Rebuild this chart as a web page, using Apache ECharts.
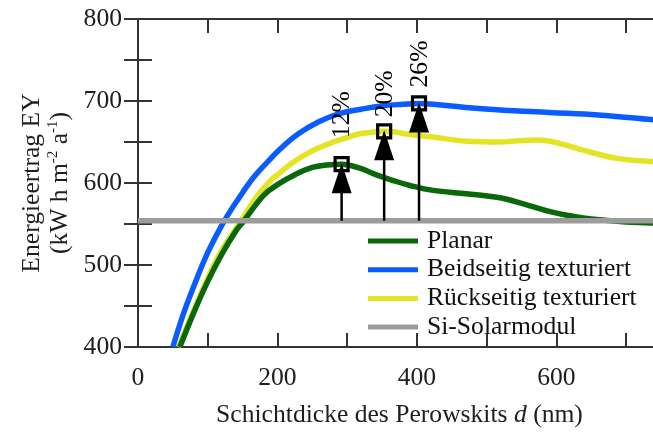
<!DOCTYPE html>
<html>
<head>
<meta charset="utf-8">
<title>Energieertrag vs. Schichtdicke</title>
<script src="https://cdn.jsdelivr.net/npm/echarts@6/dist/echarts.min.js"></script>
<style>
  html, body { margin: 0; padding: 0; background: #ffffff; }
  #chart { width: 653px; height: 432px; }
</style>
</head>
<body>
<div id="chart"></div>
<script>
// Schichtdicke d (nm) -> Energieertrag EY (kWh m^-2 a^-1)
const planar = [
  [60, 400], [80, 442], [100, 480], [120, 513], [140, 541], [152, 554],
  [180, 585], [200, 598], [227, 611], [250, 619], [271, 622], [292, 623],
  [318, 618], [342, 610], [366, 603], [390, 597], [423, 591], [471, 587],
  [519, 582], [555, 574], [591, 565], [620, 560], [650, 556], [700, 552.5],
  [750, 551]
];
const beidseitig = [
  [50, 400], [65, 440], [80, 474], [100, 515], [124, 554], [145, 582],
  [165, 606], [185, 625], [202, 640], [230, 660], [260, 675], [290, 685],
  [320, 690], [350, 694], [380, 696], [403, 697], [430, 695.5], [470, 692],
  [520, 689], [590, 686], [660, 683], [740, 677], [750, 676.5]
];
const rueckseitig = [
  [58, 400], [80, 445], [100, 484], [120, 518], [148, 554], [170, 583],
  [190, 603], [200, 610], [222, 625], [247, 638], [271, 647], [295, 654],
  [318, 660], [342, 662.5], [353, 663], [366, 662.5], [390, 659], [423, 656],
  [471, 651], [519, 650], [545, 651.5], [570, 652.5], [591, 651], [615, 646],
  [638, 640], [687, 630], [740, 626], [750, 625.5]
];
// Referenz: konventionelles Si-Solarmodul
const siModul = 554;
const siLine = [[0, siModul], [750, siModul]];

const seriesNames = ['Planar', 'Beidseitig texturiert', 'Rückseitig texturiert', 'Si-Solarmodul'];
const xTicks = { min: 0, max: 750, step: 100, labelStep: 200 };
const yTicks = { min: 400, max: 800, step: 50, labelStep: 100 };

// Maxima der Tandemkurven (Reihenfolge: Planar, Rückseitig, Beidseitig)
const peakOf = s => s.reduce((a, b) => (b[1] > a[1] ? b : a));
const peaks = [planar, rueckseitig, beidseitig].map(peakOf);
const gainData = peaks.map(p => [p[0], p[1], Math.round((p[1] / siModul - 1) * 100)]);

// Darstellung
const FONT = '"Liberation Serif", "Times New Roman", serif';
const FS = 25.6;
const AXIS_COLOR = '#333333';
const TEXT_COLOR = '#1e1e1e';
const COLORS = { planar: '#0a670a', beid: '#0b5cff', rueck: '#e4e424', si: '#9c9c9c' };
const LINE_W = 5.5;
const ARROW_LEN = 29, ARROW_HALF = 10, BOX = 13;
const LABEL_GAP = [26, 14, 16];

const tickStyle = { show: true, inside: true, length: 14, lineStyle: { color: AXIS_COLOR, width: 2 } };
const lineStyleAxis = { show: true, lineStyle: { color: AXIS_COLOR, width: 2 } };

const chart = echarts.init(document.getElementById('chart'), null, { renderer: 'canvas' });

const lineSeries = (name, data, color, z) => ({
  name, type: 'line', data, showSymbol: false, symbol: 'none',
  smooth: 0.4, clip: true, z,
  lineStyle: { color, width: LINE_W, cap: 'butt' },
  itemStyle: { color },
  emphasis: { disabled: true }
});

chart.setOption({
  animation: false,
  backgroundColor: '#ffffff',
  grid: { left: 138, top: 19, width: 523, height: 328, containLabel: false, outerBoundsMode: 'none' },
  legend: {
    orient: 'vertical', left: 368, top: 228, padding: 0,
    data: seriesNames,
    icon: 'rect', itemWidth: 50, itemHeight: 5, itemGap: 2.7,
    textStyle: { fontFamily: FONT, fontSize: FS, color: '#111111', lineHeight: 24, padding: [0, 0, 0, 4] },
    selectedMode: false
  },
  xAxis: [
    {
      type: 'value', position: 'bottom',
      min: xTicks.min, max: xTicks.max, interval: xTicks.step,
      axisLine: lineStyleAxis, axisTick: tickStyle, splitLine: { show: false },
      axisLabel: {
        margin: 18, fontFamily: FONT, fontSize: FS, color: TEXT_COLOR,
        formatter: v => (v % xTicks.labelStep === 0 ? String(v) : '')
      },
      name: 'Schichtdicke des Perowskits {i|d} (nm)',
      nameLocation: 'middle', nameGap: 55, nameMoveOverlap: false,
      nameTextStyle: {
        fontFamily: FONT, fontSize: FS, color: TEXT_COLOR,
        rich: { i: { fontFamily: FONT, fontSize: FS, fontStyle: 'italic', color: TEXT_COLOR } }
      }
    },
    {
      type: 'value', position: 'top',
      min: xTicks.min, max: xTicks.max, interval: xTicks.step,
      axisLine: lineStyleAxis, axisTick: tickStyle, splitLine: { show: false },
      axisLabel: { show: false }
    }
  ],
  yAxis: [
    {
      type: 'value', position: 'left',
      min: yTicks.min, max: yTicks.max, interval: yTicks.step,
      axisLine: lineStyleAxis, axisTick: tickStyle, splitLine: { show: false },
      axisLabel: {
        margin: 16, fontFamily: FONT, fontSize: FS, color: TEXT_COLOR,
        formatter: v => (v % yTicks.labelStep === 0 ? String(v) : '')
      },
      name: '{a|Energieertrag EY}\n{a|(kW h m}{s|-2}{a| a}{s|-1}{a|)}',
      nameLocation: 'middle', nameRotate: 90, nameGap: 64, nameMoveOverlap: false,
      nameTextStyle: {
        fontFamily: FONT, fontSize: FS, color: TEXT_COLOR, align: 'center',
        rich: {
          a: { fontFamily: FONT, fontSize: FS, lineHeight: 28, color: TEXT_COLOR },
          s: { fontFamily: FONT, fontSize: 15, lineHeight: 15, verticalAlign: 'top', color: TEXT_COLOR }
        }
      }
    },
    {
      type: 'value', position: 'right',
      min: yTicks.min, max: yTicks.max, interval: yTicks.step,
      axisLine: lineStyleAxis, axisTick: tickStyle, splitLine: { show: false },
      axisLabel: { show: false }
    }
  ],
  series: [
    lineSeries(seriesNames[2], rueckseitig, COLORS.rueck, 2),
    lineSeries(seriesNames[0], planar, COLORS.planar, 3),
    lineSeries(seriesNames[1], beidseitig, COLORS.beid, 4),
    lineSeries(seriesNames[3], siLine, COLORS.si, 5),
    {
      name: 'gain', type: 'custom', data: gainData, z: 10, clip: false,
      silent: true,
      renderItem: (params, api) => {
        const d = api.value(0), ey = api.value(1), pct = api.value(2);
        const top = api.coord([d, ey]);
        const base = api.coord([d, siModul]);
        const gap = LABEL_GAP[params.dataIndex];
        return {
          type: 'group',
          children: [
            { type: 'line', shape: { x1: top[0], y1: base[1], x2: top[0], y2: top[1] + ARROW_LEN - 2 },
              style: { stroke: '#000', lineWidth: 2.5 } },
            { type: 'polygon',
              shape: { points: [[top[0], top[1] - 1], [top[0] - ARROW_HALF, top[1] + ARROW_LEN], [top[0] + ARROW_HALF, top[1] + ARROW_LEN]] },
              style: { fill: '#000' } },
            { type: 'rect', shape: { x: top[0] - BOX / 2, y: top[1] - BOX / 2, width: BOX, height: BOX },
              style: { fill: 'none', stroke: '#000', lineWidth: 3.2 } },
            { type: 'text', x: top[0] + 1, y: top[1] - gap, rotation: Math.PI / 2,
              style: { text: pct + '%', font: FS + 'px ' + FONT, fill: '#000', align: 'left', verticalAlign: 'middle' } }
          ]
        };
      }
    }
  ]
});
</script>
</body>
</html>
